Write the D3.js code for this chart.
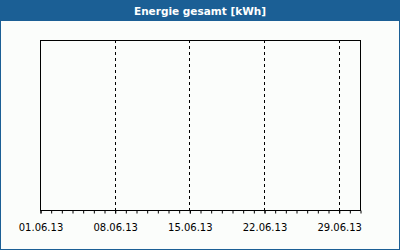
<!DOCTYPE html>
<html>
<head>
<meta charset="utf-8">
<script src="https://d3js.org/d3.v7.min.js"></script>
<style>
  body { margin: 0; background: #fff; }
  svg { display: block; }
</style>
</head>
<body>
<script>
'use strict';

let title = 'Energie gesamt [kWh]';
let domainDates = ['2013-06-01', '2013-07-01'];
let tickDates = ['2013-06-01', '2013-06-08', '2013-06-15', '2013-06-22', '2013-06-29'];
let energyValues = []; // no readings in this period

let width = 400;
let height = 250;
let margin = {top: 40, right: 40, bottom: 40, left: 40};

let parse = d3.timeParse('%Y-%m-%d');
let fmt = d3.timeFormat('%d.%m.%y');

let x = d3.scaleTime()
  .domain(domainDates.map(parse))
  .range([margin.left, width - margin.right]);

let y = d3.scaleLinear()
  .domain([0, 1])
  .range([height - margin.bottom, margin.top]);

let svg = d3.select('body').append('svg')
  .attr('width', width)
  .attr('height', height);

// frame + background
svg.append('rect')
  .attr('x', 0.5).attr('y', 0.5)
  .attr('width', width - 1).attr('height', height - 1)
  .attr('fill', '#fbfdfb')
  .attr('stroke', '#1b5f95');

// title bar
svg.append('rect')
  .attr('x', 0).attr('y', 0)
  .attr('width', width).attr('height', 21)
  .attr('fill', '#1b5f95');

svg.append('text')
  .attr('x', width / 2).attr('y', 15)
  .attr('text-anchor', 'middle')
  .attr('fill', '#fff')
  .style('font', 'bold 10.5px "DejaVu Sans", sans-serif')
  .text(title);

// dashed grid lines
svg.append('g')
  .selectAll('line')
  .data(tickDates.slice(1).map(parse))
  .enter().append('line')
    .attr('x1', d => Math.round(x(d)) + 0.5)
    .attr('x2', d => Math.round(x(d)) + 0.5)
    .attr('y1', margin.top)
    .attr('y2', height - margin.bottom)
    .attr('stroke', '#000')
    .attr('stroke-dasharray', '3,3');

// plot border
svg.append('rect')
  .attr('x', margin.left + 0.5).attr('y', margin.top + 0.5)
  .attr('width', width - margin.left - margin.right)
  .attr('height', height - margin.top - margin.bottom)
  .attr('fill', 'none')
  .attr('stroke', '#000');

// daily minor ticks
let axisMinor = d3.axisBottom(x)
  .ticks(d3.timeDay.every(1))
  .tickSize(3)
  .tickFormat('');

svg.append('g')
  .attr('transform', `translate(0.5,${height - margin.bottom + 0.5})`)
  .call(axisMinor)
  .call(g => g.select('.domain').remove());

// labelled ticks
let axisMajor = d3.axisBottom(x)
  .tickValues(tickDates.map(parse))
  .tickSize(3)
  .tickPadding(10)
  .tickFormat(fmt);

svg.append('g')
  .attr('transform', `translate(0.5,${height - margin.bottom + 0.5})`)
  .call(axisMajor)
  .call(g => g.select('.domain').remove())
  .call(g => g.selectAll('text')
    .attr('fill', '#000')
    .style('font', '10px "DejaVu Sans", sans-serif'));

// series line (empty)
svg.append('path')
  .datum(energyValues.map((v, i) => ({d: d3.timeDay.offset(parse(domainDates[0]), i), v: v})))
  .attr('fill', 'none')
  .attr('stroke', '#1b5f95')
  .attr('d', d3.line().x(d => x(d.d)).y(d => y(d.v)));
</script>
</body>
</html>
